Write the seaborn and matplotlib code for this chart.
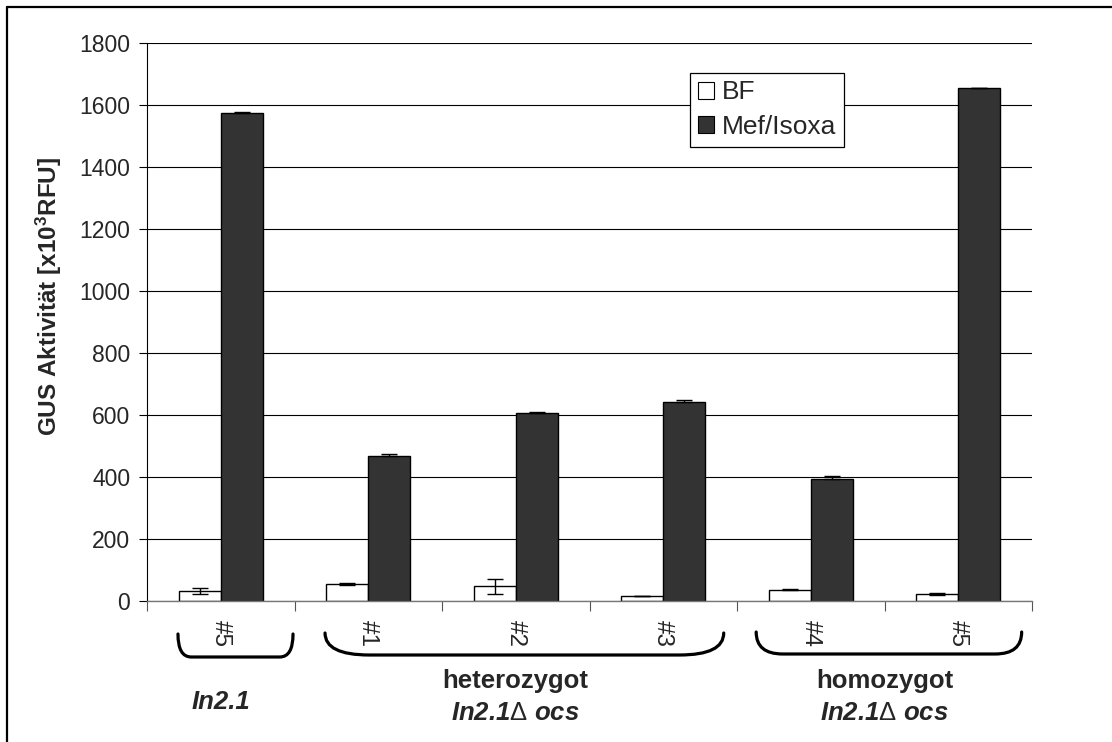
import numpy as np
import pandas as pd
import matplotlib
matplotlib.use("Agg")
import matplotlib.pyplot as plt
import matplotlib.transforms as mtransforms
from matplotlib.path import Path
from matplotlib.patches import PathPatch
from matplotlib.lines import Line2D
import seaborn as sns

# GUS activity per line, two treatments
lines = ["In2.1 #5", "het #1", "het #2", "het #3", "hom #4", "hom #5"]
tick_labels = ["#5", "#1", "#2", "#3", "#4", "#5"]
treatments = ["BF", "Mef/Isoxa"]
bf = [32, 54, 48, 16, 37, 22]
bf_err = [10, 3, 24, 1, 3, 4]
mef = [1574, 467, 605, 642, 395, 1654]
mef_err = [2, 6, 4, 5, 9, 2]

df = pd.DataFrame({
    "line": lines * 2,
    "treatment": [treatments[0]] * len(lines) + [treatments[1]] * len(lines),
    "value": bf + mef,
})

sns.set_style("white")
plt.rcParams["font.family"] = ["Liberation Sans", "DejaVu Sans"]
plt.rcParams["mathtext.fontset"] = "custom"
plt.rcParams["mathtext.rm"] = "Liberation Sans"
plt.rcParams["mathtext.bf"] = "Liberation Sans:bold"
plt.rcParams["mathtext.it"] = "Liberation Sans:italic:bold"

W, H = 1112, 742
fig = plt.figure(figsize=(W / 100, H / 100), dpi=100)
ax = fig.add_axes([147 / W, 1 - 601 / H, (1032 - 147) / W, (601 - 43) / H])

sns.barplot(data=df, x="line", y="value", hue="treatment", order=lines,
            hue_order=treatments, palette=["white", "#333333"],
            edgecolor="black", linewidth=1.0, width=0.57, errorbar=None,
            saturation=1, ax=ax)

# error bars: symmetric for BF, upper only for Mef/Isoxa
errs = [(bf_err, bf_err), ([0] * len(mef_err), mef_err)]
vals = [bf, mef]
for cont, (lo, hi), v in zip(ax.containers, errs, vals):
    xs = [b.get_x() + b.get_width() / 2 for b in cont]
    ax.errorbar(xs, v, yerr=[lo, hi], fmt="none", ecolor="black",
                elinewidth=1.0, capsize=6, capthick=1.0, zorder=5)

ax.set_xlim(-0.5, len(lines) - 0.5)
ax.set_ylim(0, 1800)
ax.set_yticks(np.arange(0, 1801, 200))
ax.yaxis.grid(True, color="black", linewidth=0.8)
ax.set_axisbelow(True)
ax.tick_params(axis="y", which="major", direction="out", length=6,
               width=0.8, color="black", labelsize=16.5, pad=6, left=True)

ax.set_xticks(range(len(lines)))
ax.set_xticklabels(tick_labels, rotation=-90, fontsize=17.5)
ax.tick_params(axis="x", which="major", length=0, pad=14)
ax.set_xticks(np.arange(-0.5, len(lines), 1.0), minor=True)
ax.tick_params(axis="x", which="minor", direction="out", length=7,
               width=0.8, color="#555555", bottom=True)
ax.set_xlabel("")
ax.set_ylabel("GUS Aktivität [x10$^{\\mathbf{3}}$RFU]", fontsize=17.5,
              fontweight="bold")
ax.yaxis.set_label_coords(-0.094, 0.545)

for s in ["top", "right"]:
    ax.spines[s].set_visible(False)
ax.spines["left"].set_color("black")
ax.spines["left"].set_linewidth(0.8)
ax.spines["bottom"].set_color("#777777")
ax.spines["bottom"].set_linewidth(1.0)

leg = ax.legend(loc="upper left", bbox_to_anchor=(0.614, 0.947),
                fontsize=19, frameon=True, fancybox=False,
                handlelength=0.6, handleheight=0.6, handletextpad=0.3,
                borderpad=0.3, labelspacing=0.4, borderaxespad=0)
leg.get_frame().set_edgecolor("black")
leg.get_frame().set_linewidth(0.9)
leg.get_frame().set_alpha(1)
for h in leg.legend_handles:
    h.set_edgecolor("black")
    h.set_linewidth(0.8)

# group brackets and labels below the axis (x in data, y in figure pixels)
trans = mtransforms.blended_transform_factory(ax.transData, fig.transFigure)


def fy(py):
    return 1 - py / H


def bracket(x0, x1, r, top, bot):
    verts = [(x0, fy(top)), (x0, fy(bot)), (x0 + r, fy(bot)),
             (x1 - r, fy(bot)), (x1, fy(bot)), (x1, fy(top))]
    codes = [Path.MOVETO, Path.CURVE3, Path.CURVE3, Path.LINETO,
             Path.CURVE3, Path.CURVE3]
    fig.add_artist(PathPatch(Path(verts, codes), transform=trans,
                             fill=False, edgecolor="black", linewidth=2.3,
                             capstyle="round"))


bracket(-0.29, 0.49, 0.09, 634, 657)
bracket(0.707, 3.41, 0.30, 633, 655)
bracket(3.63, 5.43, 0.18, 632, 654)

lab = dict(transform=trans, ha="center", va="center", fontsize=18.5,
           fontweight="bold")
fig.text(0, fy(702), "In2.1", fontstyle="italic", **lab)
fig.text(2, fy(681), "heterozygot", **lab)
fig.text(2, fy(713), "In2.1$\\mathit{\\Delta}$ ocs", fontstyle="italic", **lab)
fig.text(4.5, fy(681), "homozygot", **lab)
fig.text(4.5, fy(713), "In2.1$\\mathit{\\Delta}$ ocs", fontstyle="italic", **lab)

# outer frame (top and left edges)
fig.add_artist(Line2D([7 / W, 1], [fy(7), fy(7)], color="black",
                      linewidth=1.6, transform=fig.transFigure))
fig.add_artist(Line2D([7 / W, 7 / W], [0, fy(7)], color="black",
                      linewidth=1.6, transform=fig.transFigure))

fig.savefig("out.png", dpi=100, facecolor="white")
